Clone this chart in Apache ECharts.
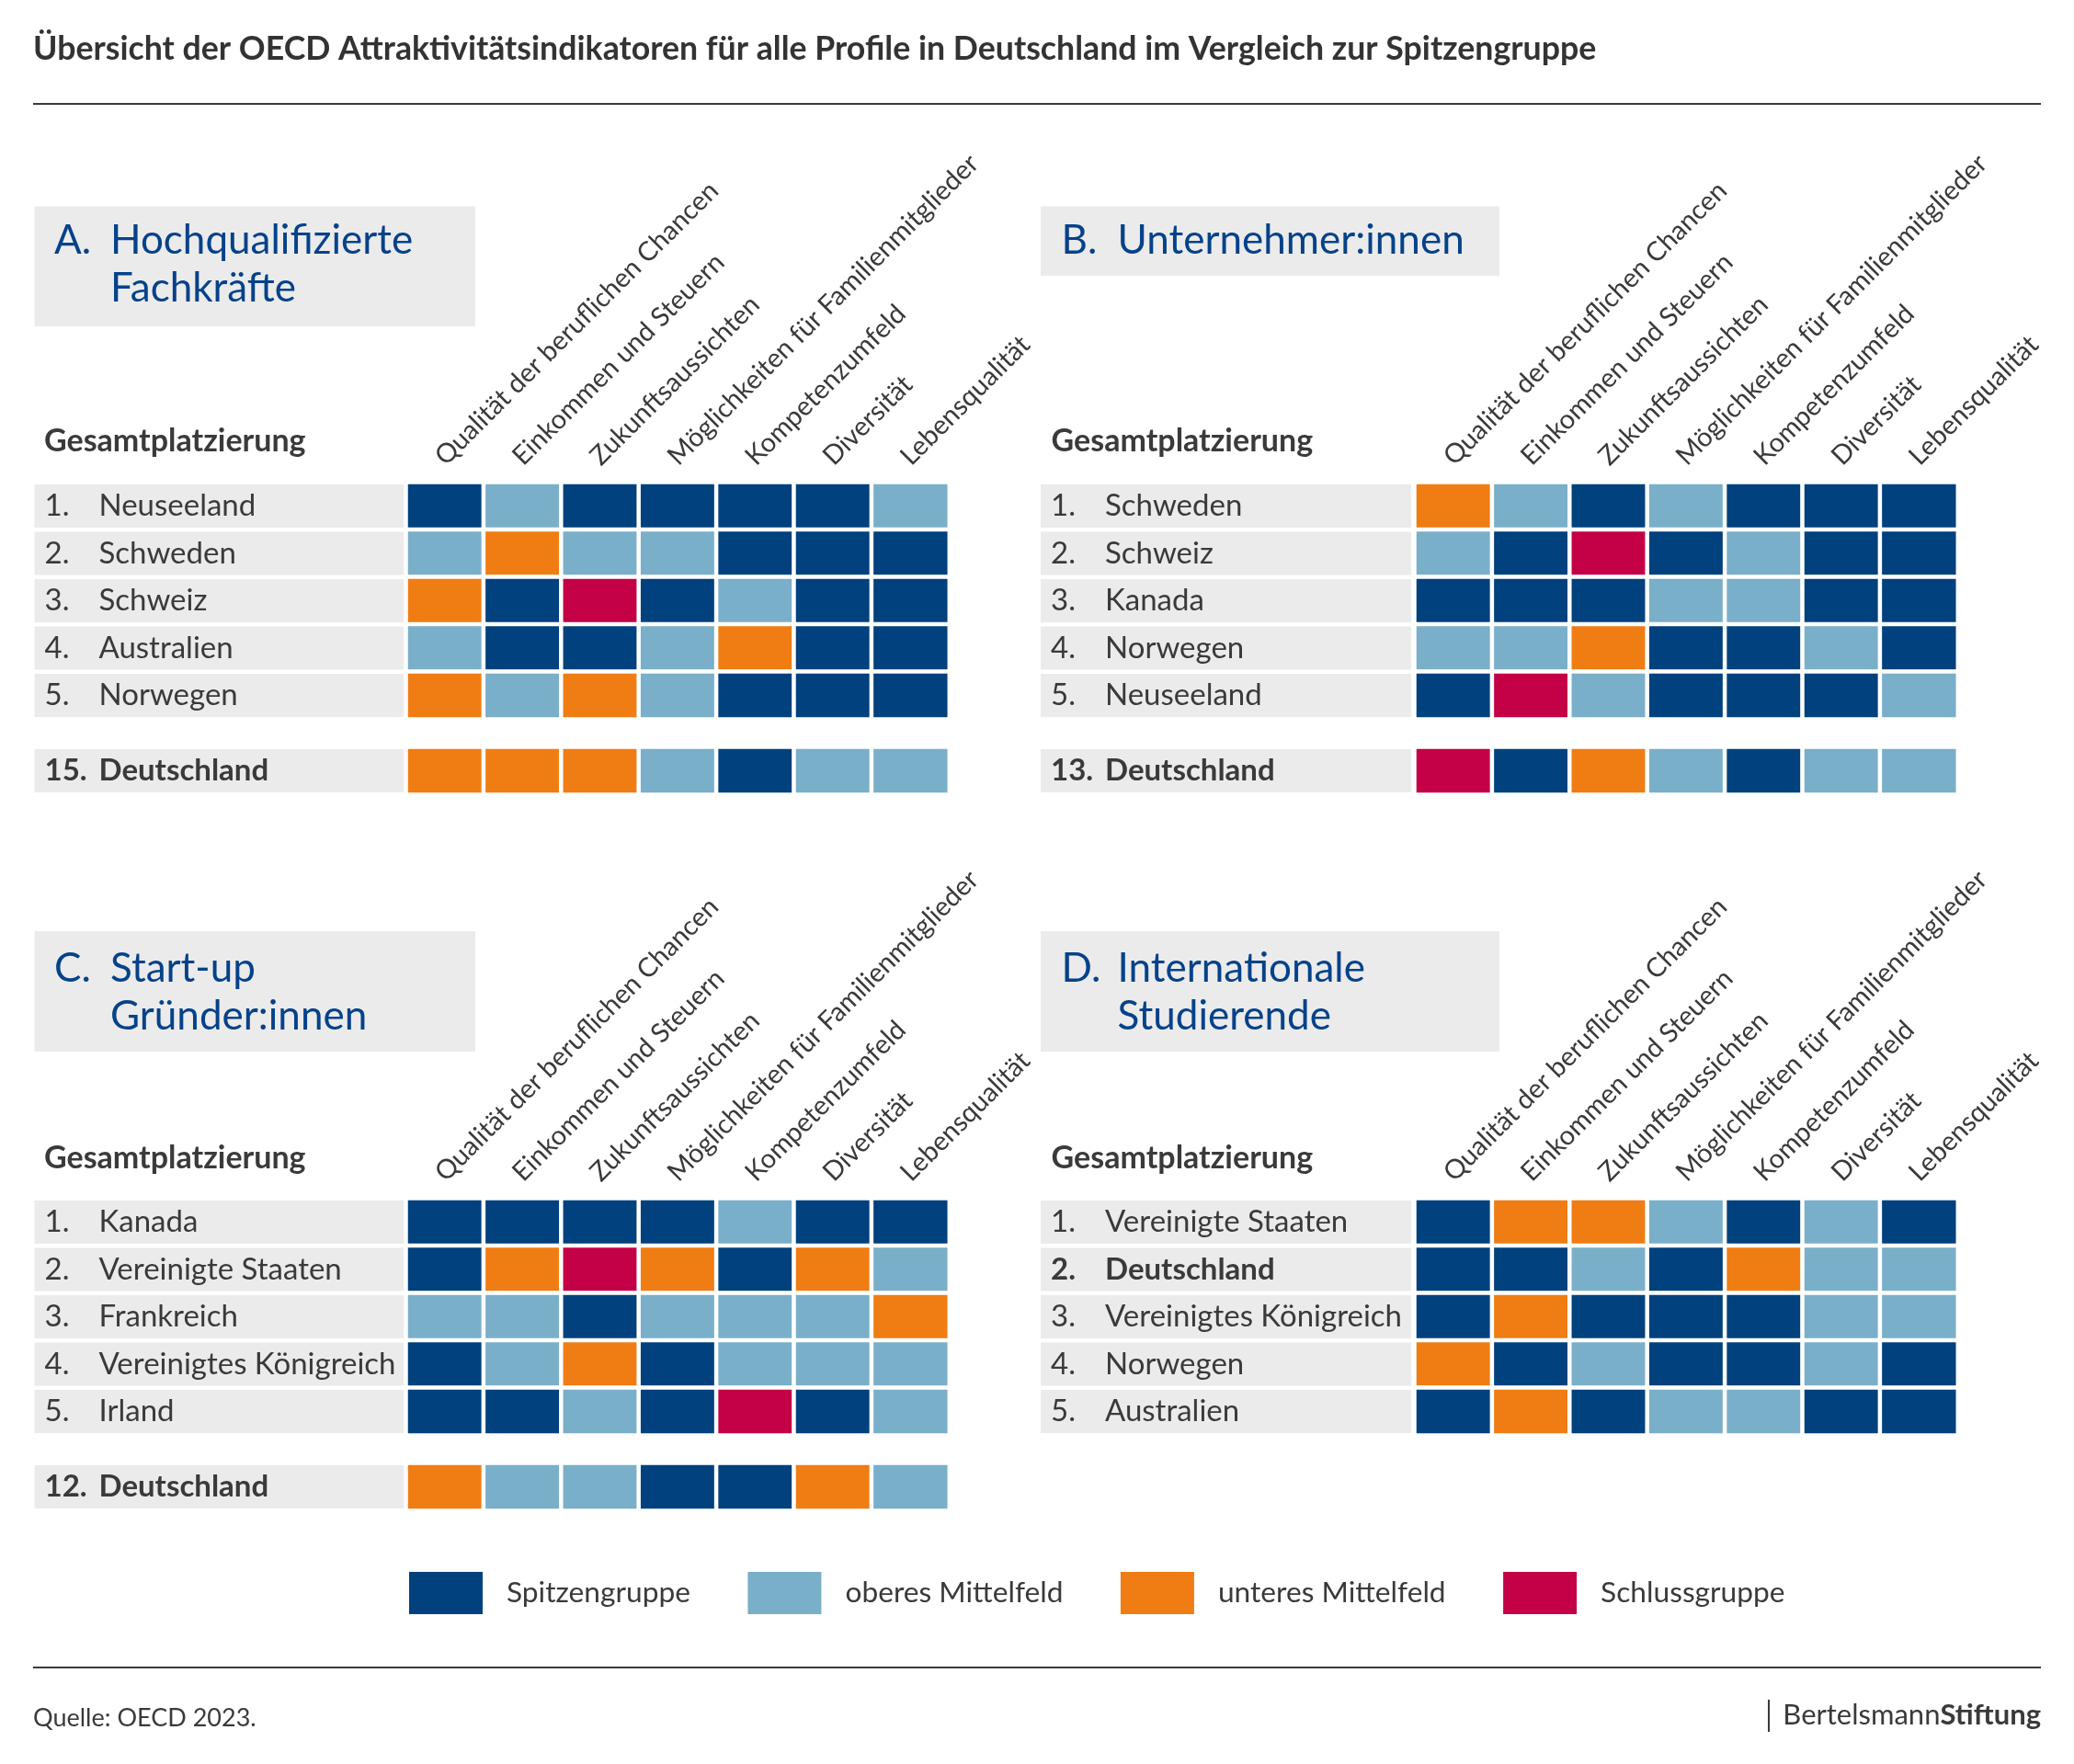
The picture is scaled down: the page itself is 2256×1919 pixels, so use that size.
<!DOCTYPE html>
<html>
<head>
<meta charset="utf-8">
<script src="https://cdn.jsdelivr.net/npm/echarts@6/dist/echarts.min.js"></script>
<style>
  html, body { margin: 0; padding: 0; background: #ffffff; }
  #chart { width: 2256px; height: 1919px; }
</style>
</head>
<body>
<div id="chart"></div>
<script>
// ---------------- DATA ----------------
const chartTitle = 'Übersicht der OECD Attraktivitätsindikatoren für alle Profile in Deutschland im Vergleich zur Spitzengruppe';
const sourceText = 'Quelle: OECD 2023.';
const rankHeader = 'Gesamtplatzierung';

const indicators = ['Qualität der beruflichen Chancen', 'Einkommen und Steuern', 'Zukunftsaussichten',
  'Möglichkeiten für Familienmitglieder', 'Kompetenzumfeld', 'Diversität', 'Lebensqualität'];

// 0 = Spitzengruppe, 1 = oberes Mittelfeld, 2 = unteres Mittelfeld, 3 = Schlussgruppe
const levels = ['Spitzengruppe', 'oberes Mittelfeld', 'unteres Mittelfeld', 'Schlussgruppe'];

const titleA = ['A.', 'Hochqualifizierte', 'Fachkräfte'];
const ranksA = ['1.', '2.', '3.', '4.', '5.'];
const countriesA = ['Neuseeland', 'Schweden', 'Schweiz', 'Australien', 'Norwegen'];
const valuesA = [
  [0, 1, 0, 0, 0, 0, 1],
  [1, 2, 1, 1, 0, 0, 0],
  [2, 0, 3, 0, 1, 0, 0],
  [1, 0, 0, 1, 2, 0, 0],
  [2, 1, 2, 1, 0, 0, 0]
];
const germanyRankA = '15.';
const germanyA = [2, 2, 2, 1, 0, 1, 1];

const titleB = ['B.', 'Unternehmer:innen'];
const ranksB = ['1.', '2.', '3.', '4.', '5.'];
const countriesB = ['Schweden', 'Schweiz', 'Kanada', 'Norwegen', 'Neuseeland'];
const valuesB = [
  [2, 1, 0, 1, 0, 0, 0],
  [1, 0, 3, 0, 1, 0, 0],
  [0, 0, 0, 1, 1, 0, 0],
  [1, 1, 2, 0, 0, 1, 0],
  [0, 3, 1, 0, 0, 0, 1]
];
const germanyRankB = '13.';
const germanyB = [3, 0, 2, 1, 0, 1, 1];

const titleC = ['C.', 'Start-up', 'Gründer:innen'];
const ranksC = ['1.', '2.', '3.', '4.', '5.'];
const countriesC = ['Kanada', 'Vereinigte Staaten', 'Frankreich', 'Vereinigtes Königreich', 'Irland'];
const valuesC = [
  [0, 0, 0, 0, 1, 0, 0],
  [0, 2, 3, 2, 0, 2, 1],
  [1, 1, 0, 1, 1, 1, 2],
  [0, 1, 2, 0, 1, 1, 1],
  [0, 0, 1, 0, 3, 0, 1]
];
const germanyRankC = '12.';
const germanyC = [2, 1, 1, 0, 0, 2, 1];

const titleD = ['D.', 'Internationale', 'Studierende'];
const ranksD = ['1.', '2.', '3.', '4.', '5.'];
const countriesD = ['Vereinigte Staaten', 'Deutschland', 'Vereinigtes Königreich', 'Norwegen', 'Australien'];
const valuesD = [
  [0, 2, 2, 1, 0, 1, 0],
  [0, 0, 1, 0, 2, 1, 1],
  [0, 2, 0, 0, 0, 1, 1],
  [2, 0, 1, 0, 0, 1, 0],
  [0, 2, 0, 1, 1, 0, 0]
];

const germanyName = 'Deutschland';

// ---------------- STYLE / LAYOUT ----------------
const levelColors = ['#00417e', '#7aafc9', '#ef7d14', '#c40046'];
const FONT = 'Lato, "Noto Sans", sans-serif';
const TXT = '#3a3a3a';
const BLUE = '#05428a';
const BG = '#ebebeb';

const panels = [
  { title: titleA, ranks: ranksA, countries: countriesA, values: valuesA, gRank: germanyRankA, gVals: germanyA,
    left: 441.75, top: 524.75, deTop: 812.75, box: [37.5, 224.5, 479.5, 130.5], titleY: 261.6, headY: 480, textX: 48 },
  { title: titleB, ranks: ranksB, countries: countriesB, values: valuesB, gRank: germanyRankB, gVals: germanyB,
    left: 1538.75, top: 524.75, deTop: 812.75, box: [1132, 224.5, 499, 75.5], titleY: 261.6, headY: 480, textX: 1143.6 },
  { title: titleC, ranks: ranksC, countries: countriesC, values: valuesC, gRank: germanyRankC, gVals: germanyC,
    left: 441.75, top: 1303.75, deTop: 1591.75, box: [37.5, 1013, 479.5, 131], titleY: 1053.6, headY: 1259.6, textX: 48 },
  { title: titleD, ranks: ranksD, countries: countriesD, values: valuesD, gRank: null, gVals: null,
    left: 1538.75, top: 1303.75, deTop: null, box: [1132, 1013, 499, 131], titleY: 1053.6, headY: 1259.6, textX: 1143.6 }
];

const CELL_W = 84.4, CELL_H = 51.5, GAP = 4.5;
const LINE2 = 52.5;

const grids = [], xAxes = [], yAxes = [], series = [], graphics = [];

function rowLabelCfg(ranks, bgLeft, gridLeft) {
  return {
    show: true,
    interval: 0,
    align: 'left',
    verticalAlign: 'middle',
    margin: gridLeft - bgLeft,
    width: 392,
    height: CELL_H - GAP,
    padding: [0, 0, 0, 11],
    backgroundColor: BG,
    formatter: function (value, index) {
      const bold = value === germanyName;
      const r = ranks[index];
      return bold ? '{nb|' + r + '}{cb|' + value + '}' : '{n|' + r + '}{c|' + value + '}';
    },
    rich: {
      n: { width: 59, fontSize: 33, fontFamily: FONT, color: TXT, lineHeight: CELL_H - GAP },
      c: { fontSize: 33, fontFamily: FONT, color: TXT, lineHeight: CELL_H - GAP },
      nb: { width: 59, fontSize: 33, fontFamily: FONT, fontWeight: 'bold', color: TXT, lineHeight: CELL_H - GAP },
      cb: { fontSize: 33, fontFamily: FONT, fontWeight: 'bold', color: TXT, lineHeight: CELL_H - GAP }
    }
  };
}

function addGrid(left, top, rows, ranks, countries, values, showX, bgLeft) {
  const gi = grids.length;
  grids.push({ left: left, top: top, width: CELL_W * 7, height: CELL_H * rows, containLabel: false });
  xAxes.push({
    type: 'category', gridIndex: gi, data: indicators, position: 'top', show: showX,
    axisLine: { show: false }, axisTick: { show: false }, splitLine: { show: false },
    axisLabel: {
      show: showX, interval: 0, rotate: -45, align: 'left', verticalAlign: 'bottom',
      margin: 18, padding: 0, lineHeight: 16,
      fontSize: 29, fontFamily: FONT, color: TXT
    }
  });
  yAxes.push({
    type: 'category', gridIndex: gi, data: countries, inverse: true,
    axisLine: { show: false }, axisTick: { show: false }, splitLine: { show: false },
    axisLabel: rowLabelCfg(ranks, bgLeft, left)
  });
  const data = [];
  values.forEach((row, r) => row.forEach((v, c) => data.push([c, r, v])));
  series.push({
    type: 'heatmap', xAxisIndex: gi, yAxisIndex: gi, data: data,
    itemStyle: { borderColor: '#ffffff', borderWidth: GAP },
    emphasis: { disabled: true },
    label: { show: false }
  });
}

panels.forEach(p => {
  graphics.push({ type: 'rect', shape: { x: p.box[0], y: p.box[1], width: p.box[2], height: p.box[3] }, style: { fill: BG }, silent: true });
  graphics.push({ type: 'text', x: p.textX + 11, y: p.titleY,
    style: { text: p.title[0], fontSize: 44, fontFamily: FONT, fill: BLUE, align: 'left', verticalAlign: 'middle', textAlign: 'left', textVerticalAlign: 'middle' } });
  for (let i = 1; i < p.title.length; i++) {
    graphics.push({ type: 'text', x: p.textX + 72, y: p.titleY + (i - 1) * LINE2,
      style: { text: p.title[i], fontSize: 44, fontFamily: FONT, fill: BLUE, align: 'left', verticalAlign: 'middle', textAlign: 'left', textVerticalAlign: 'middle' } });
  }
  graphics.push({ type: 'text', x: p.textX, y: p.headY,
    style: { text: rankHeader, fontSize: 34, fontWeight: 'bold', fontFamily: FONT, fill: TXT, align: 'left', verticalAlign: 'middle', textAlign: 'left', textVerticalAlign: 'middle' } });

  const bgLeft = p.box[0];
  addGrid(p.left, p.top, p.countries.length, p.ranks, p.countries, p.values, true, bgLeft);
  if (p.gVals) {
    addGrid(p.left, p.deTop, 1, [p.gRank], [germanyName], [p.gVals], false, bgLeft);
  }
});

graphics.push({ type: 'text', x: 36, y: 53,
  style: { text: chartTitle, fontSize: 35.7, fontWeight: 'bold', fontFamily: FONT, fill: '#333333', align: 'left', verticalAlign: 'middle', textAlign: 'left', textVerticalAlign: 'middle' } });
graphics.push({ type: 'line', shape: { x1: 36, y1: 113, x2: 2220, y2: 113 }, style: { stroke: '#3a3a3a', lineWidth: 2 } });
graphics.push({ type: 'line', shape: { x1: 36, y1: 1814, x2: 2220, y2: 1814 }, style: { stroke: '#3a3a3a', lineWidth: 2 } });
graphics.push({ type: 'text', x: 36, y: 1869,
  style: { text: sourceText, fontSize: 27, fontFamily: FONT, fill: TXT, align: 'left', verticalAlign: 'middle', textAlign: 'left', textVerticalAlign: 'middle' } });
graphics.push({ type: 'line', shape: { x1: 1924, y1: 1849, x2: 1924, y2: 1884 }, style: { stroke: '#3a3a3a', lineWidth: 2 } });
graphics.push({ type: 'text', x: 2220, y: 1866,
  style: { text: '{a|Bertelsmann}{b|Stiftung}', align: 'right', verticalAlign: 'middle', textAlign: 'right', textVerticalAlign: 'middle',
    rich: { a: { fontSize: 31, fontFamily: FONT, fill: TXT, color: TXT }, b: { fontSize: 31, fontFamily: FONT, fontWeight: 'bold', fill: TXT, color: TXT } } } });

const chart = echarts.init(document.getElementById('chart'), null, { renderer: 'canvas' });
chart.setOption({
  animation: false,
  backgroundColor: '#ffffff',
  textStyle: { fontFamily: FONT },
  grid: grids,
  xAxis: xAxes,
  yAxis: yAxes,
  visualMap: {
    type: 'piecewise',
    orient: 'horizontal',
    left: 430,
    top: 1695,
    itemWidth: 80,
    itemHeight: 46,
    itemGap: 62.5,
    textGap: 26,
    itemSymbol: 'rect',
    selectedMode: false,
    hoverLink: false,
    pieces: levels.map((l, i) => ({ value: i, label: l, color: levelColors[i] })),
    textStyle: { fontSize: 31.7, fontFamily: FONT, color: TXT },
    seriesIndex: series.map((s, i) => i)
  },
  graphic: graphics,
  series: series
});
</script>
</body>
</html>
